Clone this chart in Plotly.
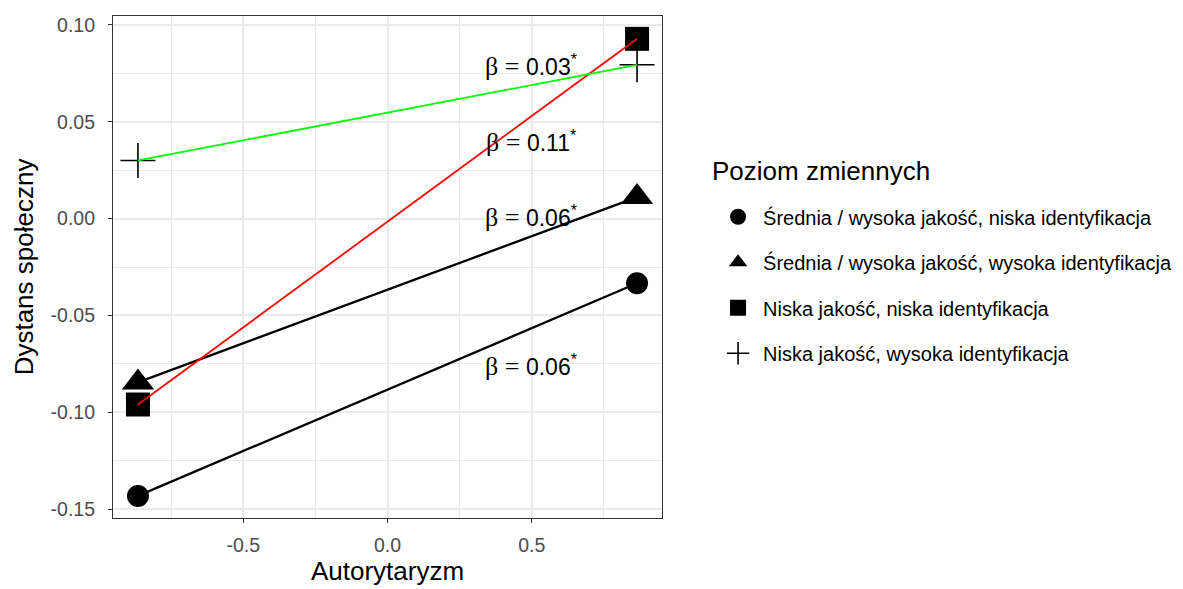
import plotly.graph_objects as go

# ---- data ----
x_levels = [-0.865, 0.865]
series_names = [
    "Średnia / wysoka jakość, niska identyfikacja",
    "Średnia / wysoka jakość, wysoka identyfikacja",
    "Niska jakość, niska identyfikacja",
    "Niska jakość, wysoka identyfikacja",
]
circle_vals = [-0.1432, -0.0334]
triangle_vals = [-0.0846, 0.0111]
square_vals = [-0.0960, 0.0928]
cross_vals = [0.0300, 0.0794]

beta_labels = ["0.03", "0.11", "0.06", "0.06"]
beta_x = [0.5, 0.5, 0.5, 0.5]
beta_y = [0.079, 0.040, 0.001, -0.076]

x_ticks = [-0.5, 0.0, 0.5]
x_tick_text = ["-0.5", "0.0", "0.5"]
y_ticks = [0.10, 0.05, 0.00, -0.05, -0.10, -0.15]
y_tick_text = ["0.10", "0.05", "0.00", "-0.05", "-0.10", "-0.15"]

legend_title = "Poziom zmiennych"

FONT = "Liberation Sans, Arial, sans-serif"

series_vals = [circle_vals, triangle_vals, square_vals, cross_vals]
line_colors = ["#000000", "#000000", "#FF0000", "#00FF00"]
symbols = ["circle", "triangle-up", "square", "cross-thin"]
sizes = [22, 28, 24, 25]

fig = go.Figure()

# markers (legend items)
for i, (name, vals) in enumerate(zip(series_names, series_vals)):
    marker = dict(symbol=symbols[i], size=sizes[i], color="#000000")
    if symbols[i] == "cross-thin":
        marker["line"] = dict(color="#000000", width=1.6)
    else:
        marker["line"] = dict(width=0)
    fig.add_trace(go.Scatter(
        x=x_levels, y=vals, mode="markers", name=name,
        marker=marker, legendgroup=f"g{i}", showlegend=True,
    ))

# lines drawn on top
for i, vals in enumerate(series_vals):
    fig.add_trace(go.Scatter(
        x=x_levels, y=vals, mode="lines",
        line=dict(color=line_colors[i], width=2.3 if line_colors[i] == "#000000" else 1.8),
        showlegend=False, hoverinfo="skip",
    ))

# beta annotations
for lab, bx, by in zip(beta_labels, beta_x, beta_y):
    fig.add_annotation(
        x=bx, y=by, xref="x", yref="y", showarrow=False,
        text=f"<span style=\"font-family:Liberation Serif;font-size:26px\">β = </span>{lab}<sup>*</sup>",
        font=dict(family=FONT, size=23, color="#000000"),
        xanchor="center", yanchor="middle",
    )

# legend title
fig.add_annotation(
    x=1.0874, y=0.6905, xref="paper", yref="paper", showarrow=False,
    text=legend_title, font=dict(family=FONT, size=26, color="#000000"),
    xanchor="left", yanchor="middle",
)

grid_major = "#EBEBEB"
fig.update_xaxes(
    range=[-0.9515, 0.9515],
    tickvals=x_ticks, ticktext=x_tick_text,
    showgrid=True, gridcolor=grid_major, gridwidth=1.6,
    minor=dict(dtick=0.25, tick0=0.25, showgrid=True, gridcolor=grid_major, gridwidth=0.8, ticks=""),
    zeroline=False,
    ticks="outside", ticklen=4, tickwidth=1.2, tickcolor="#333333",
    ticklabelstandoff=5,
    tickfont=dict(family=FONT, size=19.5, color="#4D4D4D"),
    title=dict(text="Autorytaryzm", font=dict(family=FONT, size=26, color="#000000"), standoff=7),
    showline=True, linecolor="#333333", linewidth=1.2, mirror=True,
)
fig.update_yaxes(
    range=[-0.1546, 0.1046],
    tickvals=y_ticks, ticktext=y_tick_text,
    showgrid=True, gridcolor=grid_major, gridwidth=1.6,
    minor=dict(dtick=0.025, tick0=0.025, showgrid=True, gridcolor=grid_major, gridwidth=0.8, ticks=""),
    zeroline=False,
    ticks="outside", ticklen=4, tickwidth=1.2, tickcolor="#333333",
    ticklabelstandoff=9,
    tickfont=dict(family=FONT, size=19.5, color="#4D4D4D"),
    title=dict(text="Dystans społeczny", font=dict(family=FONT, size=26, color="#000000"), standoff=9),
    showline=True, linecolor="#333333", linewidth=1.2, mirror=True,
)

fig.update_layout(
    width=1175, height=581,
    margin=dict(l=105, r=521, t=6, b=71),
    paper_bgcolor="#FFFFFF", plot_bgcolor="#FFFFFF",
    font=dict(family=FONT, color="#000000"),
    legend=dict(
        font=dict(family=FONT, size=20, color="#000000"),
        x=1.093, xanchor="left", y=0.639, yanchor="top",
        traceorder="grouped", tracegroupgap=16.5, itemwidth=40,
        itemsizing="trace", bgcolor="rgba(0,0,0,0)",
    ),
)

fig.write_html("out.html")
